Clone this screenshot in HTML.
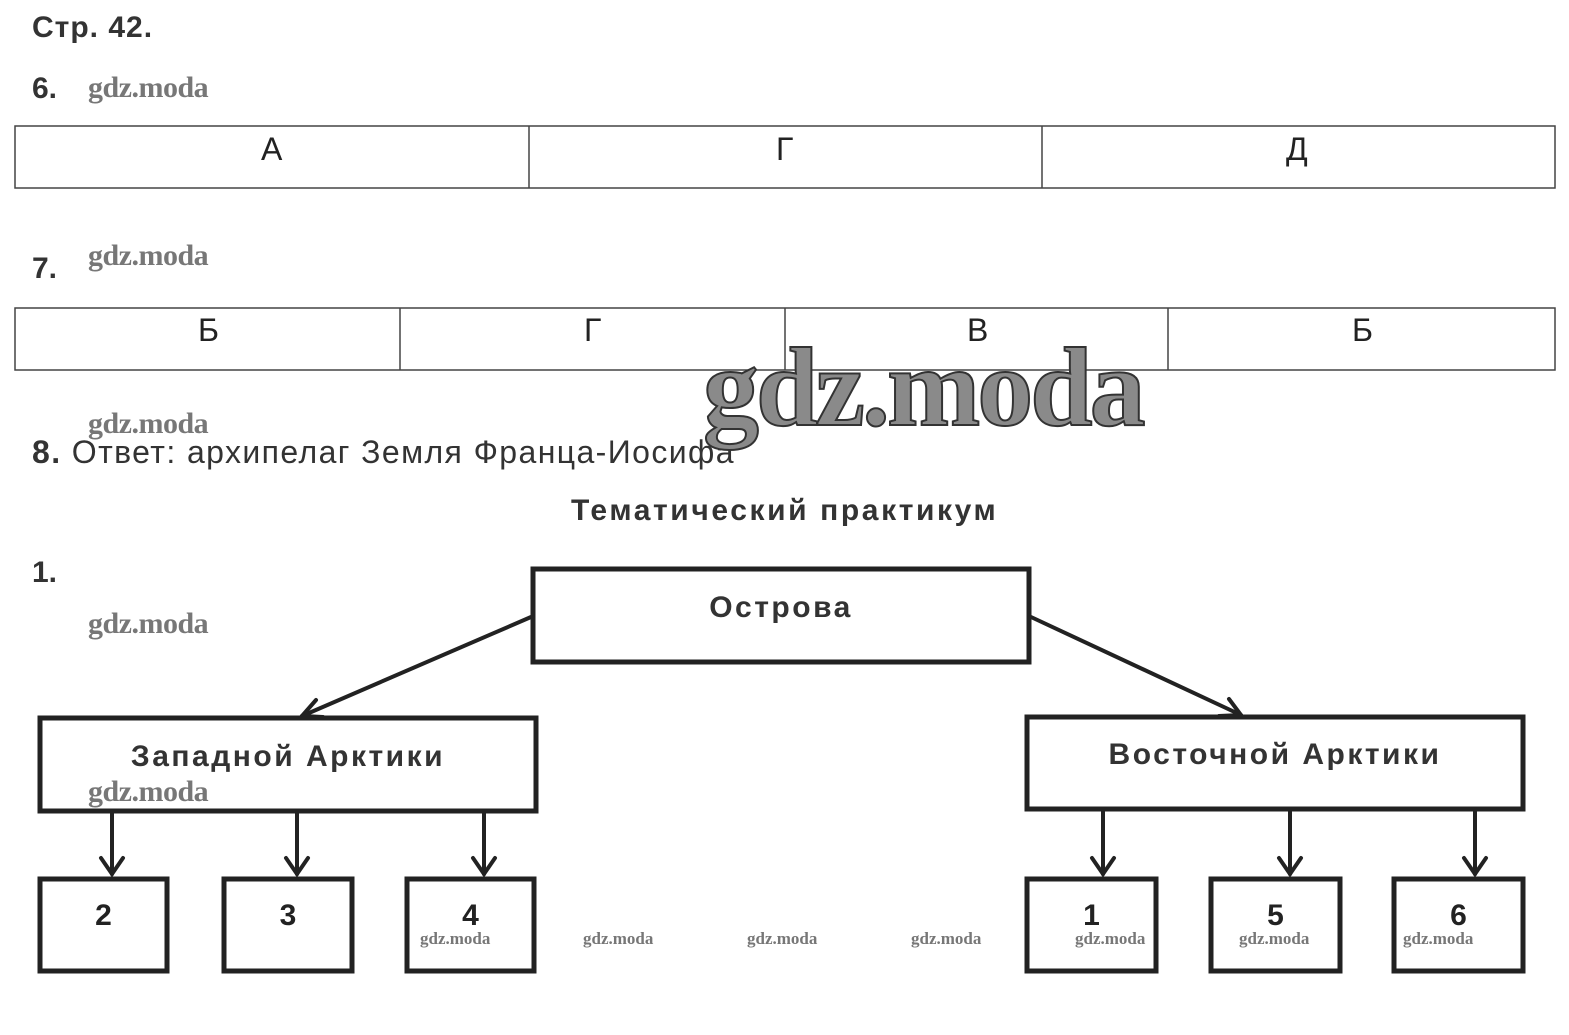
<!DOCTYPE html>
<html><head><meta charset="utf-8"><style>
body{margin:0;width:1569px;height:1035px;background:#fff;position:relative;overflow:hidden;font-family:"Liberation Sans",sans-serif;color:#222}
.a{position:absolute;white-space:nowrap}
.wm{position:absolute;font-family:"Liberation Serif",serif;font-weight:bold;color:#777;font-size:30px;white-space:nowrap;letter-spacing:-0.5px}
.ws{font-size:17px;letter-spacing:0}
.bx{letter-spacing:2.5px}
</style></head><body>
<svg width="1569" height="1035" style="position:absolute;left:0;top:0">
<g stroke="#444" stroke-width="1.5" fill="none">
<rect x="15" y="126" width="1540" height="62"/>
<line x1="529" y1="126" x2="529" y2="188"/><line x1="1042" y1="126" x2="1042" y2="188"/>
<rect x="15" y="308" width="1540" height="62"/>
<line x1="400" y1="308" x2="400" y2="370"/><line x1="785" y1="308" x2="785" y2="370"/><line x1="1168" y1="308" x2="1168" y2="370"/>
</g>
<g stroke="#222" stroke-width="5" fill="none">
<rect x="533" y="569" width="496" height="93"/>
<rect x="40" y="718" width="496" height="93"/>
<rect x="1027" y="717" width="496" height="92"/>
<rect x="40" y="879" width="127" height="92"/>
<rect x="224" y="879" width="128" height="92"/>
<rect x="407" y="879" width="127" height="92"/>
<rect x="1027" y="879" width="129" height="92"/>
<rect x="1211" y="879" width="129" height="92"/>
<rect x="1394" y="879" width="129" height="92"/>
</g>
<g stroke="#222" stroke-width="4" fill="none" stroke-linecap="round">
<line x1="531" y1="617" x2="302" y2="716"/>
<polyline points="316,700 302,716 323,717"/>
<line x1="1031" y1="617" x2="1241" y2="715"/>
<polyline points="1219,716 1241,715 1229,699"/>
<line x1="112" y1="812" x2="112" y2="874"/><polyline points="101,858 112,874 123,858"/>
<line x1="297" y1="812" x2="297" y2="874"/><polyline points="286,858 297,874 308,858"/>
<line x1="484" y1="812" x2="484" y2="874"/><polyline points="473,858 484,874 495,858"/>
<line x1="1103" y1="810" x2="1103" y2="874"/><polyline points="1092,858 1103,874 1114,858"/>
<line x1="1290" y1="810" x2="1290" y2="874"/><polyline points="1279,858 1290,874 1301,858"/>
<line x1="1475" y1="810" x2="1475" y2="874"/><polyline points="1464,858 1475,874 1486,858"/>
</g>
</svg>
<div class="a" style="left:32px;top:11px;font-size:30px;font-weight:bold;color:#333;letter-spacing:1px">Стр. 42.</div>
<div class="a" style="left:32px;top:72px;font-size:30px;font-weight:bold;color:#333">6.</div>
<div class="a" style="left:32px;top:252px;font-size:30px;font-weight:bold;color:#333">7.</div>
<div class="a" style="left:261px;top:131px;font-size:32px">А</div>
<div class="a" style="left:776px;top:131px;font-size:32px">Г</div>
<div class="a" style="left:1286px;top:131px;font-size:32px">Д</div>
<div class="a" style="left:198px;top:312px;font-size:32px">Б</div>
<div class="a" style="left:584px;top:312px;font-size:32px">Г</div>
<div class="a" style="left:967px;top:312px;font-size:32px">В</div>
<div class="a" style="left:1352px;top:312px;font-size:32px">Б</div>
<div class="a" style="left:32px;top:434px;font-size:32px;color:#333;letter-spacing:1.4px"><b>8.</b> Ответ: архипелаг Земля Франца-Иосифа</div>
<div class="a" style="left:571px;top:494px;font-size:30px;font-weight:bold;color:#333;letter-spacing:2.6px">Тематический практикум</div>
<div class="a" style="left:32px;top:556px;font-size:30px;font-weight:bold;color:#333">1.</div>
<div class="a bx" style="left:533px;top:591px;width:496px;text-align:center;font-size:30px;font-weight:bold;color:#333">Острова</div>
<div class="a bx" style="left:40px;top:740px;width:496px;text-align:center;font-size:30px;font-weight:bold;color:#333">Западной Арктики</div>
<div class="a bx" style="left:1027px;top:738px;width:496px;text-align:center;font-size:30px;font-weight:bold;color:#333">Восточной Арктики</div>
<div class="a" style="left:40px;top:899px;width:127px;text-align:center;font-size:30px;font-weight:bold">2</div>
<div class="a" style="left:224px;top:899px;width:128px;text-align:center;font-size:30px;font-weight:bold">3</div>
<div class="a" style="left:407px;top:899px;width:127px;text-align:center;font-size:30px;font-weight:bold">4</div>
<div class="a" style="left:1027px;top:899px;width:129px;text-align:center;font-size:30px;font-weight:bold">1</div>
<div class="a" style="left:1211px;top:899px;width:129px;text-align:center;font-size:30px;font-weight:bold">5</div>
<div class="a" style="left:1394px;top:899px;width:129px;text-align:center;font-size:30px;font-weight:bold">6</div>
<div class="wm" style="left:88px;top:71px">gdz.moda</div>
<div class="wm" style="left:88px;top:239px">gdz.moda</div>
<div class="wm" style="left:88px;top:407px">gdz.moda</div>
<div class="wm" style="left:88px;top:607px">gdz.moda</div>
<div class="wm" style="left:88px;top:775px">gdz.moda</div>
<div class="wm ws" style="left:420px;top:929px">gdz.moda</div>
<div class="wm ws" style="left:583px;top:929px">gdz.moda</div>
<div class="wm ws" style="left:747px;top:929px">gdz.moda</div>
<div class="wm ws" style="left:911px;top:929px">gdz.moda</div>
<div class="wm ws" style="left:1075px;top:929px">gdz.moda</div>
<div class="wm ws" style="left:1239px;top:929px">gdz.moda</div>
<div class="wm ws" style="left:1403px;top:929px">gdz.moda</div>
<div class="a" style="left:703px;top:324px;font-family:'Liberation Serif',serif;font-weight:bold;font-size:112px;color:#8a8a8a;-webkit-text-stroke:2px #333;letter-spacing:-3px">gdz.moda</div>
</body></html>
